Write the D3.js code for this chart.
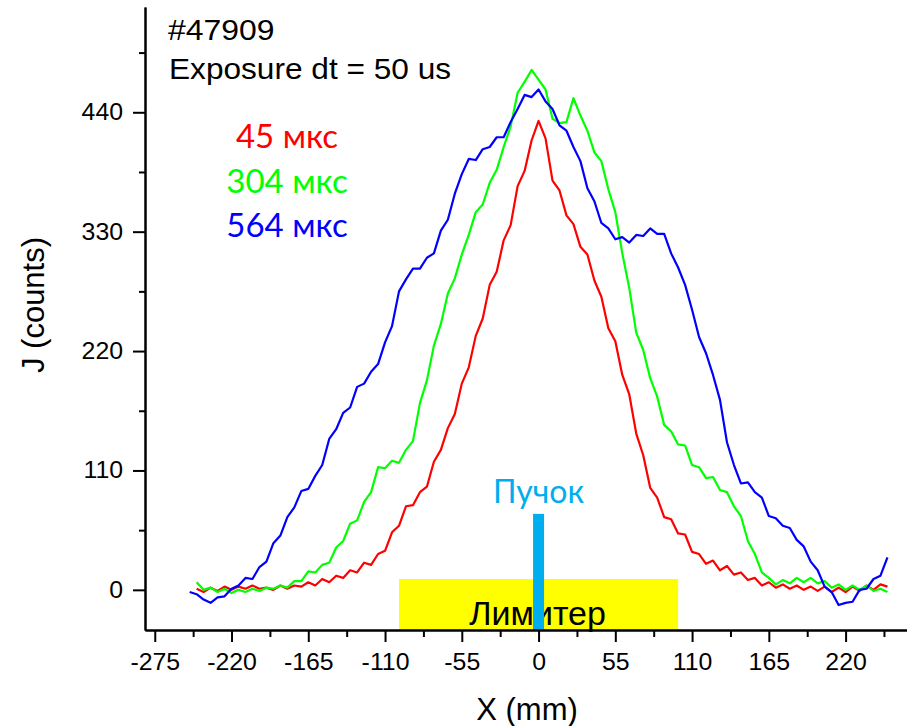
<!DOCTYPE html>
<html><head><meta charset="utf-8">
<script src="https://cdn.jsdelivr.net/npm/d3@7/dist/d3.min.js"></script>
<style>body{margin:0;background:#fff}svg{display:block}</style>
</head><body>
<script>
// ---- data ----
const xPos = [-250,-245,-240,-235,-230,-225,-220,-215,-210,-205,-200,-195,-190,-185,-180,-175,-170,-165,-160,-155,-150,-145,-140,-135,-130,-125,-120,-115,-110,-105,-100,-95,-90,-85,-80,-75,-70,-65,-60,-55,-50,-45,-40,-35,-30,-25,-20,-15,-10,-5,0,5,10,15,20,25,30,35,40,45,50,55,60,65,70,75,80,85,90,95,100,105,110,115,120,125,130,135,140,145,150,155,160,165,170,175,180,185,190,195,200,205,210,215,220,225,230,235,240,245,250];
const red45 = [null,1,-2,2,-1,3,0,3,1,4,1,2,0,4,1,4,3,7,4,10,7,13,11,18,16,25,23,33,36,53,59,77,78,90,95,118,129,149,162,190,205,234,250,281,293,322,336,372,386,414,432,416,377,368,345,337,316,309,285,270,241,229,198,180,144,124,94,85,67,65,52,51,35,33,24,27,18,22,14,16,9,11,4,7,2,5,1,4,0,3,-1,3,-2,2,-2,3,-1,4,0,5,3];
const green304 = [null,7,0,2,-2,1,-3,0,-2,1,-1,2,1,4,2,8,8,17,16,23,25,39,45,61,64,81,90,113,112,119,117,129,137,172,193,225,245,273,287,309,327,348,355,375,387,408,427,458,468,479,470,461,434,430,431,453,437,423,403,395,369,348,310,278,237,221,195,178,152,146,134,133,115,113,103,104,92,90,77,68,45,33,16,11,5,9,6,11,7,11,6,8,2,5,0,4,0,4,-1,1,-2];
const blue564 = [-2,-4,-9,-12,-7,-6,1,4,11,10,21,26,43,50,67,76,91,93,105,115,139,148,163,168,187,190,201,208,228,243,275,286,296,296,306,310,331,341,365,383,397,396,406,408,417,417,431,443,456,454,461,450,443,428,423,408,395,370,358,338,333,323,325,320,327,326,333,328,328,310,297,281,258,233,218,198,175,136,115,98,99,90,85,68,66,59,57,46,40,26,18,3,-2,-14,-12,-11,0,1,10,13,30];
const seriesNames = ["45 мкс","304 мкс","564 мкс"];
const seriesColors = ["#ff0000","#00ff00","#0000ff"];
const xMajor = [-275,-220,-165,-110,-55,0,55,110,165,220];
const xMinor = [-247.5,-192.5,-137.5,-82.5,-27.5,27.5,82.5,137.5,192.5,247.5];
const yMajor = [0,110,220,330,440];
const yMinor = [55,165,275,385,495];
const limiterRange = [-100, 100];
const limiterTop = 10;
const beamX = 0, beamTop = 70;
const titleLines = ["#47909","Exposure dt = 50 us"];

// ---- chart ----
const W = 907, H = 726;
const svg = d3.select("body").append("svg").attr("width", W).attr("height", H);
const x = d3.scaleLinear().domain([-282, 264]).range([145, 907]);
const y = d3.scaleLinear().domain([-37, 537]).range([630, 7]);

function stretch(sel, k) {
  sel.each(function () {
    const w = this.getComputedTextLength();
    d3.select(this).attr("textLength", w * k).attr("lengthAdjust", "spacingAndGlyphs");
  });
}

// limiter rectangle
svg.append("rect")
  .attr("x", x(limiterRange[0])).attr("width", x(limiterRange[1]) - x(limiterRange[0]))
  .attr("y", y(limiterTop)).attr("height", y(-37) - y(limiterTop))
  .attr("fill", "#ffff00");

// curves
const all = [red45, green304, blue564];
all.forEach((vals, i) => {
  const pts = xPos.map((xv, j) => [xv, vals[j]]);
  svg.append("path")
    .datum(pts)
    .attr("fill", "none")
    .attr("stroke", seriesColors[i])
    .attr("stroke-width", 2.2)
    .attr("stroke-linejoin", "round")
    .attr("d", d3.line().defined(d => d[1] !== null).x(d => x(d[0])).y(d => y(d[1])));
});

// limiter text
svg.append("text").text("Лимитер")
  .attr("x", x(0) - 1).attr("y", 625)
  .attr("text-anchor", "middle")
  .attr("font-family", "Liberation Sans, Arial, sans-serif")
  .attr("font-size", 34).attr("fill", "#000");

// beam bar
svg.append("rect")
  .attr("x", x(beamX) - 5.5).attr("width", 11)
  .attr("y", y(beamTop)).attr("height", y(-37) - y(beamTop))
  .attr("fill", "#00aeef");
svg.append("text").text("Пучок")
  .attr("x", x(beamX)).attr("y", 503)
  .attr("text-anchor", "middle")
  .attr("font-family", "Lato, sans-serif")
  .attr("font-size", 32).attr("fill", "#00aeef");

// axes
const font = "Liberation Sans, Arial, sans-serif";
const fmt = d => String(d);
const gx = svg.append("g").attr("transform", `translate(0,${y(-37)})`);
gx.call(d3.axisBottom(x).tickValues(xMinor).tickSize(7).tickSizeOuter(0).tickFormat(""));
const gx2 = svg.append("g").attr("transform", `translate(0,${y(-37)})`);
gx2.call(d3.axisBottom(x).tickValues(xMajor).tickSize(12).tickSizeOuter(0).tickPadding(12).tickFormat(fmt));
const gy = svg.append("g").attr("transform", `translate(${x(-282)},0)`);
gy.call(d3.axisLeft(y).tickValues(yMinor).tickSize(6).tickSizeOuter(0).tickFormat(""));
const gy2 = svg.append("g").attr("transform", `translate(${x(-282)},0)`);
gy2.call(d3.axisLeft(y).tickValues(yMajor).tickSize(12).tickSizeOuter(0).tickPadding(10).tickFormat(fmt));
svg.selectAll(".domain").attr("stroke", "#000").attr("stroke-width", 2);
svg.selectAll(".tick line").attr("stroke", "#000").attr("stroke-width", 2);
svg.selectAll(".tick text").attr("font-family", font).attr("font-size", 23).attr("fill", "#000")
  .call(stretch, 1.08);

// axis titles
svg.append("text").text("X (mm)")
  .attr("x", 527).attr("y", 720).attr("text-anchor", "middle")
  .attr("font-family", font).attr("font-size", 31).attr("fill", "#000");
svg.append("text").text("J (counts)")
  .attr("transform", "translate(44,305) rotate(-90)").attr("text-anchor", "middle")
  .attr("font-family", font).attr("font-size", 31).attr("fill", "#000");

// header text
svg.append("text").text(titleLines[0]).attr("x", 168).attr("y", 40)
  .attr("font-family", font).attr("font-size", 29).attr("fill", "#000").call(stretch, 1.1);
svg.append("text").text(titleLines[1]).attr("x", 169).attr("y", 79)
  .attr("font-family", font).attr("font-size", 29).attr("fill", "#000").call(stretch, 1.09);

// legend
const legendY = [148, 193, 237];
seriesNames.forEach((n, i) => {
  svg.append("text").text(n)
    .attr("x", 287).attr("y", legendY[i]).attr("text-anchor", "middle")
    .attr("font-family", "Lato, sans-serif").attr("font-size", 33)
    .attr("fill", seriesColors[i]);
});
</script>
</body></html>
